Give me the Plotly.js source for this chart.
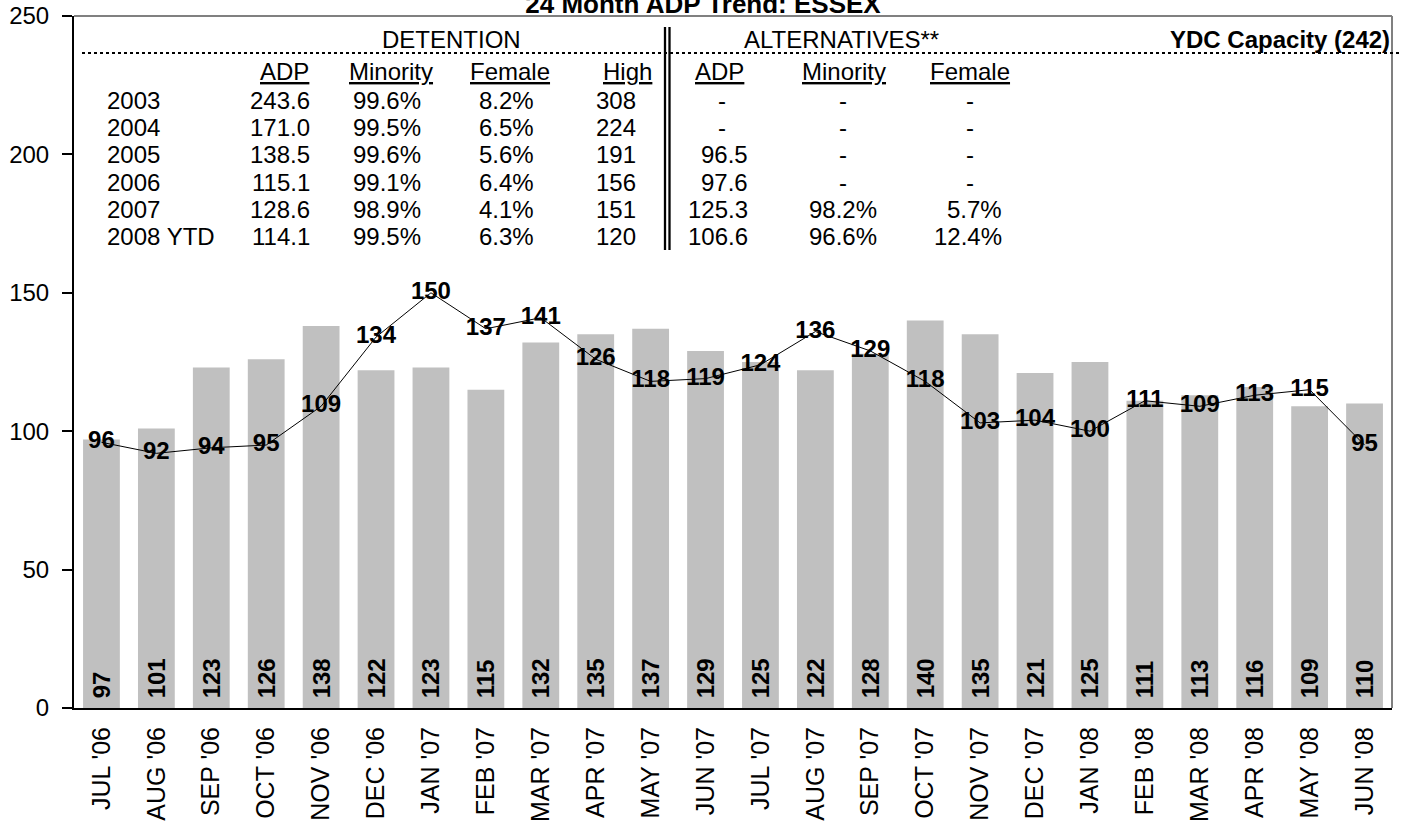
<!DOCTYPE html>
<html>
<head>
<meta charset="utf-8">
<script src="https://cdn.plot.ly/plotly-3.0.1.min.js"></script>
<style>html,body{margin:0;padding:0;background:#fff;}#chart{width:1406px;height:826px;}</style>
</head>
<body>
<div id="chart"></div>
<script>
// ---- Data ----
var months = ["JUL '06","AUG '06","SEP '06","OCT '06","NOV '06","DEC '06","JAN '07","FEB '07","MAR '07","APR '07","MAY '07","JUN '07","JUL '07","AUG '07","SEP '07","OCT '07","NOV '07","DEC '07","JAN '08","FEB '08","MAR '08","APR '08","MAY '08","JUN '08"];
var detentionADP = [97,101,123,126,138,122,123,115,132,135,137,129,125,122,128,140,135,121,125,111,113,116,109,110];
var alternativesADP = [96,92,94,95,109,134,150,137,141,126,118,119,124,136,129,118,103,104,100,111,109,113,115,95];

var years = ["2003","2004","2005","2006","2007","2008 YTD"];
var detADP = ["243.6","171.0","138.5","115.1","128.6","114.1"];
var detMinority = ["99.6%","99.5%","99.6%","99.1%","98.9%","99.5%"];
var detFemale = ["8.2%","6.5%","5.6%","6.4%","4.1%","6.3%"];
var detHigh = ["308","224","191","156","151","120"];
var altADP = ["-","-","96.5","97.6","125.3","106.6"];
var altMinority = ["-","-","-","-","98.2%","96.6%"];
var altFemale = ["-","-","-","-","5.7%","12.4%"];
var detHeaders = ["ADP","Minority","Female","High"];
var altHeaders = ["ADP","Minority","Female"];
var capacity = 242;
var chartTitle = "24 Month ADP Trend: ESSEX";

// ---- Layout helpers (pixel -> paper) ----
var W = 1406, H = 826;
var M = {l:74, r:14, t:16, b:118};
var PW = W - M.l - M.r, PH = H - M.t - M.b;
function px(x){ return (x - M.l) / PW; }
function py(y){ return (H - M.b - y) / PH; }
var FONT = "Liberation Sans, Arial, sans-serif";
var FS = 24;

var annotations = [];
function addText(text, x, y, anchor, bold){
  annotations.push({
    xref:'paper', yref:'paper', x:px(x), y:py(y),
    xanchor:anchor, yanchor:'middle', showarrow:false,
    text: bold ? '<b>'+text+'</b>' : text,
    font:{family:FONT, size:FS, color:'#000'}
  });
}
function ul(t){ return '<span style="text-decoration:underline">'+t+'</span>'; }

// group headings
addText("DETENTION", 451, 40, 'center');
addText("ALTERNATIVES**", 841, 40, 'center');
addText("YDC Capacity (" + capacity + ")", 1392, 40, 'right', true);

// column headers
var detHeadX = [284, 391, 510, 627];
var altHeadX = [719, 844, 970];
detHeaders.forEach(function(h,i){ addText(ul(h), detHeadX[i], 72, 'center'); });
altHeaders.forEach(function(h,i){ addText(ul(h), altHeadX[i], 72, 'center'); });

// rows
var rowY0 = 100, rowStep = 27.4;
var detCols = [detADP, detMinority, detFemale, detHigh];
var detRight = [312, 423, 536, 638];
var altCols = [altADP, altMinority, altFemale];
var altRight = [750, 879, 1004];
var altDash = [722, 843, 970];
years.forEach(function(yr, r){
  var y = rowY0 + r*rowStep;
  addText(yr, 105, y, 'left');
  detCols.forEach(function(col, c){ addText(col[r], detRight[c], y, 'right'); });
  altCols.forEach(function(col, c){
    if (col[r] === "-") addText("-", altDash[c], y, 'center');
    else addText(col[r], altRight[c], y, 'right');
  });
});

var shapes = [
  // top and right frame (grey)
  {type:'line', xref:'paper', yref:'paper', x0:0, x1:1, y0:1, y1:1, line:{color:'#808080', width:2}},
  {type:'line', xref:'paper', yref:'paper', x0:1, x1:1, y0:0, y1:1, line:{color:'#808080', width:2}},
  // capacity dotted line
  {type:'line', xref:'paper', yref:'paper', x0:px(82), x1:px(1400), y0:py(53), y1:py(53), line:{color:'#000', width:2, dash:'dot'}},
  // double separator
  {type:'line', xref:'paper', yref:'paper', x0:px(665), x1:px(665), y0:py(27), y1:py(250), line:{color:'#000', width:2.3}},
  {type:'line', xref:'paper', yref:'paper', x0:px(669.5), x1:px(669.5), y0:py(27), y1:py(250), line:{color:'#000', width:2.3}}
];

var traces = [
  {
    type:'bar', x:months, y:detentionADP,
    marker:{color:'#c0c0c0', line:{width:0}},
    texttemplate:'\u00a0<b>%{y}</b>', textposition:'inside', insidetextanchor:'start',
    textangle:-90, constraintext:'none',
    textfont:{family:FONT, size:FS, color:'#000'},
    hoverinfo:'skip', cliponaxis:false
  },
  {
    type:'scatter', mode:'lines+text', x:months, y:alternativesADP,
    line:{color:'#000', width:1},
    texttemplate:'<b>%{y}</b>', textposition:'middle center',
    textfont:{family:FONT, size:FS, color:'#000'},
    hoverinfo:'skip', cliponaxis:false
  }
];

var layout = {
  width:W, height:H,
  margin:M,
  paper_bgcolor:'#fff', plot_bgcolor:'#fff',
  showlegend:false,
  bargap:0.33,
  uniformtext:{mode:'show', minsize:FS},
  title:{text:'<b>'+chartTitle+'</b>', x:0.5, xanchor:'center', y:1 - 4/H, yref:'container', yanchor:'middle',
         font:{family:FONT, size:26, color:'#000'}},
  xaxis:{
    type:'category', range:[-0.5, months.length - 0.5], autorange:false,
    showgrid:false, zeroline:false,
    showline:true, linecolor:'#000', linewidth:2,
    ticks:'', tickangle:-90, ticklabelstandoff:7,
    tickfont:{family:FONT, size:25, color:'#000'}
  },
  yaxis:{
    range:[0,250], autorange:false, tickvals:[0,50,100,150,200,250],
    showgrid:false, zeroline:false,
    showline:true, linecolor:'#000', linewidth:2,
    ticks:'outside', ticklen:10, tickwidth:2, tickcolor:'#000', ticklabelstandoff:8,
    tickfont:{family:FONT, size:FS, color:'#000'}
  },
  shapes:shapes,
  annotations:annotations
};

Plotly.newPlot('chart', traces, layout, {displayModeBar:false, staticPlot:true});
</script>
</body>
</html>
